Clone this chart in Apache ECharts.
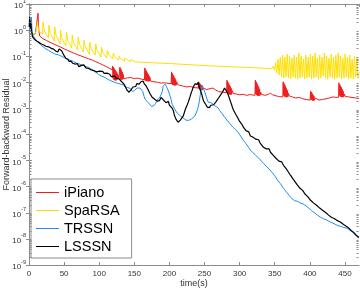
<!DOCTYPE html>
<html><head><meta charset="utf-8">
<script src="https://cdn.jsdelivr.net/npm/echarts@6/dist/echarts.min.js"></script>
<style>html,body{margin:0;padding:0;background:#fff}#c{width:360px;height:288px}</style>
</head><body><div id="c"></div>
<script>
// ---- data (time in s, residual stored as log10 exponent) ----
const seriesNames = ['iPiano', 'SpaRSA', 'TRSSN', 'LSSSN'];
const xTickStep = 50;
const yTickExponents = [-9,-8,-7,-6,-5,-4,-3,-2,-1,0,1];

const ipianoT = [3,6,9,11.7,12.9,13.3,13.9,15.3,20,25,30,35,40,45,50,55,60,65,70,75,80,85,90,95,100,105,110,115,118.5,
119,119.6,120.2,120.8,121.4,122,122.6,123.2,123.8,124.4,125,125.6,126.2,126.8,127.4,128.2,
129.5,130.1,130.7,131.3,131.9,132.5,133.1,133.7,134.3,135,136,140,145,150,155,160,164.5,
165,165.6,166.2,166.8,167.4,168,168.6,169.2,169.8,170.4,171,171.6,172.2,173,174,178,183,188,193,198,202.5,
203,203.6,204.2,204.8,205.4,206,206.6,207.2,207.8,208.4,209,209.6,210.4,211.5,215,220,225,230,235,241,
241.6,242.2,242.8,243.4,244,244.6,245.2,245.8,246.4,247,248,249,253,258,262,266,270,275,281.5,
282,282.6,283.2,283.8,284.4,285,285.6,286.2,286.8,287.4,288,288.6,289.4,290.5,295,300,305,310,315,321.8,
322.4,323,323.6,324.2,324.8,325.4,326,326.6,327.2,327.8,328.4,329,330,331,336,341,344,347,352,357,361.5,
362,362.6,363.2,363.8,364.4,365,365.6,366.2,366.8,367.4,368,368.6,369.5,370.5,375,380,385,390,395,400.5,
401,401.6,402.2,402.8,403.4,404,404.6,405.2,405.8,406.6,407.5,408.5,413,418,423,428,433,437,441,
441.4,442,442.6,443.2,443.8,444.4,445,445.6,446.2,446.8,447.4,448.2,449.2,450.5,455,460,465,470];
const ipianoLog10 = [-0.15,-0.16,-0.14,-0.11,0.65,0.30,0.00,-0.23,-0.33,-0.40,-0.47,-0.53,-0.59,-0.65,-0.72,-0.78,-0.84,-0.90,-0.95,-1.00,-1.05,-1.10,-1.15,-1.21,-1.27,-1.33,-1.40,-1.47,-1.52,
-1.38,-1.85,-1.42,-1.90,-1.47,-1.92,-1.52,-1.93,-1.57,-1.92,-1.62,-1.90,-1.68,-1.88,-1.74,-1.82,
-1.42,-1.88,-1.48,-1.90,-1.55,-1.90,-1.62,-1.88,-1.70,-1.86,-1.80,-1.83,-1.82,-1.86,-1.84,-1.88,-1.90,
-1.45,-1.93,-1.51,-1.95,-1.57,-1.96,-1.63,-1.96,-1.69,-1.96,-1.75,-1.96,-1.81,-1.95,-1.90,-1.98,-2.00,-2.03,-2.02,-2.04,-2.05,
-1.60,-2.07,-1.66,-2.10,-1.72,-2.11,-1.78,-2.12,-1.84,-2.12,-1.90,-2.11,-1.98,-2.08,-2.12,-2.15,-2.18,-2.16,-2.20,-2.22,
-1.98,-2.25,-2.02,-2.28,-2.06,-2.29,-2.10,-2.30,-2.15,-2.30,-2.22,-2.27,-2.28,-2.24,-2.22,-2.30,-2.35,-2.38,-2.40,
-1.92,-2.40,-1.98,-2.44,-2.04,-2.46,-2.10,-2.47,-2.16,-2.47,-2.23,-2.46,-2.32,-2.42,-2.45,-2.48,-2.46,-2.50,-2.47,-2.50,
-1.92,-2.45,-1.98,-2.49,-2.05,-2.51,-2.12,-2.52,-2.19,-2.52,-2.26,-2.50,-2.38,-2.46,-2.50,-2.46,-2.42,-2.48,-2.52,-2.55,-2.56,
-1.98,-2.50,-2.04,-2.54,-2.10,-2.56,-2.17,-2.57,-2.24,-2.57,-2.31,-2.56,-2.42,-2.52,-2.56,-2.60,-2.58,-2.63,-2.66,-2.68,
-2.33,-2.65,-2.38,-2.68,-2.43,-2.70,-2.48,-2.70,-2.53,-2.69,-2.60,-2.67,-2.68,-2.66,-2.63,-2.60,-2.56,-2.58,-2.57,
-2.02,-2.50,-2.08,-2.54,-2.14,-2.56,-2.20,-2.57,-2.27,-2.57,-2.34,-2.56,-2.45,-2.54,-2.56,-2.58,-2.60,-2.62];

const sparsaT = [5,8,10,
12,14,19.3, 20,22,27.6, 28.3,30.3,35.9, 36.6,38.6,44.3, 45,47,52.6, 53.3,55.3,60.9, 61.6,63.6,69.3, 70,72,77.6,
78.3,80.3,85.9, 86.6,88.6,94.3, 95,97,102.6, 103.3,105.3,110.9, 111.6,113.6,119.3, 120,122,127.6, 128.3,130.3,135.9,
136.6,138.6,144.3, 145,147,152, 175,200,225,250,275,300,320,340,346,
348,349.65,351.3,352.95,354.6,356.25,357.9,359.55,361.2,362.85,364.5,366.15,367.8,369.45,371.1,372.75,374.4,376.05,
377.7,379.35,381,382.65,384.3,385.95,387.6,389.25,390.9,392.55,394.2,395.85,397.5,399.15,400.8,402.45,404.1,405.75,
407.4,409.05,410.7,412.35,414,415.65,417.3,418.95,420.6,422.25,423.9,425.55,427.2,428.85,430.5,432.15,433.8,435.45,
437.1,438.75,440.4,442.05,443.7,445.35,447,448.65,450.3,451.95,453.6,455.25,456.9,458.55,460.2,461.85,463.5,465.15,
466.8,468.45,470];
const sparsaLog10 = [-0.12,-0.15,-0.05,
0.31,-0.05,-0.15, 0.31,-0.05,-0.30, 0.19,-0.12,-0.42, 0.12,-0.20,-0.53, 0.00,-0.32,-0.61, -0.07,-0.40,-0.69, -0.19,-0.48,-0.76, -0.27,-0.55,-0.84,
-0.38,-0.64,-0.92, -0.46,-0.70,-0.96, -0.53,-0.78,-1.03, -0.65,-0.86,-1.07, -0.76,-0.93,-1.11, -0.88,-1.02,-1.15, -1.00,-1.09,-1.19,
-1.07,-1.14,-1.21, -1.13,-1.18,-1.22, -1.25,-1.28,-1.32,-1.36,-1.39,-1.42,-1.44,-1.47,-1.47,
-1.38,-1.55,-1.25,-1.65,-1.12,-1.72,-1.03,-1.78,-0.96,-1.84,-1.03,-1.80,-0.92,-1.84,-0.99,-1.88,-1.07,-1.80,
-0.96,-1.84,-1.03,-1.88,-0.88,-1.84,-0.99,-1.80,-1.11,-1.88,-0.96,-1.84,-1.03,-1.80,-0.92,-1.88,-0.99,-1.84,
-0.88,-1.80,-1.07,-1.88,-0.96,-1.84,-1.03,-1.76,-0.88,-1.84,-0.99,-1.88,-1.07,-1.80,-0.92,-1.84,-1.03,-1.88,
-0.96,-1.84,-0.88,-1.80,-0.99,-1.88,-1.07,-1.84,-0.92,-1.80,-1.03,-1.88,-0.96,-1.84,-1.11,-1.88,-0.99,-1.80,
-1.07,-1.86,-1.60];

const trssnT = [0.3,1,1.7,2.5,3.4,3.9,4.3,5.3,6.5,8.1,10,12,13.5,15.3,17,19,21,22.4,24,26,28,29.6,31,33,35,36.7,38,40,42,43.9,
46,48,50,51,53,55,57,58.1,60,62,63.5,65.3,67,69,71,72.4,74,76,78,79.6,81,83,85,86.7,88,90,92,93.9,95.5,97,99,101,103,105,107,108.1,
110,112,113.5,115.3,117,119,121,122.4,124,126,128,129.6,131.5,133,135,136.5,138.1,140,141.5,143.9,145.5,147,148.1,150,152,154,156,158.1,
160,162,164,166,168,170,172.4,174.5,176.7,178.5,180.5,182.4,184,186,188.1,190,191,192.5,193.9,195.5,196.8,198.1,200,202,203.9,206,208,
211,213,215.5,217.5,219.6,221.5,223.5,225.3,227.5,229.5,231.5,233.9,236,238,240,241,242.5,243.9,245,246.7,248,249.5,250.9,252.5,254,
255.3,257,259,260.5,262.4,264.5,266.5,268,269.6,271.5,273,275,276.7,279,281,283,285,286.7,288.5,290.5,292.5,294.5,296.7,298.5,300.5,
302.5,305.3,307,309,311,313,315.3,317,319,321,323,325.3,327,329,331,333.9,336,338,340,342,343.9,346,348,350,352,353.9,356,358,360,
362.4,364.5,366.5,368.5,370.5,372.4,374.5,376.7,378.5,380.5,382.5,384.5,386.7,388.5,390.5,392.5,394.5,396.7,398.5,400.5,402.5,405.3,
407.5,409.5,411.5,413.5,415.3,417.5,419.5,421.5,423.5,425.3,427.5,429.5,431.5,433.9,436,438,440,443.9,446,448,450,453.9,456,458,460,
462.4,464.5,466.5,468.5,470];
const trssnLog10 = [-0.11,0.05,0.19,0.35,0.50,0.20,0.00,-0.19,-0.25,-0.30,-0.38,-0.44,-0.48,-0.53,-0.58,-0.61,-0.66,-0.69,-0.72,-0.74,-0.78,-0.80,-0.83,-0.86,-0.89,-0.92,-0.93,-0.94,-0.95,-0.96,
-1.00,-1.02,-1.05,-1.07,-1.10,-1.11,-1.14,-1.15,-1.17,-1.20,-1.21,-1.23,-1.26,-1.27,-1.29,-1.30,-1.33,-1.34,-1.36,-1.38,-1.40,-1.41,-1.43,-1.46,-1.48,-1.51,-1.54,-1.57,-1.62,-1.66,-1.70,-1.72,-1.76,-1.77,-1.80,-1.80,
-1.85,-1.88,-1.90,-1.92,-1.95,-1.96,-1.99,-1.99,-2.02,-2.00,-2.05,-2.03,-2.08,-2.12,-2.10,-2.18,-2.22,-2.20,-2.26,-2.23,-2.30,-2.35,-2.38,-2.32,-2.28,-2.22,-2.25,-2.22,
-2.28,-2.35,-2.55,-2.68,-2.75,-2.78,-2.80,-2.93,-2.99,-2.88,-2.80,-2.68,-2.62,-2.60,-2.53,-2.35,-2.15,-2.10,-2.07,-2.15,-2.22,-2.30,-2.45,-2.62,-2.84,-2.95,-3.05,
-3.18,-3.22,-3.28,-3.35,-3.37,-3.42,-3.45,-3.49,-3.46,-3.42,-3.40,-3.37,-3.30,-3.18,-3.05,-2.95,-2.75,-2.49,-2.30,-2.11,-2.20,-2.32,-2.41,-2.55,-2.68,
-2.76,-2.80,-2.78,-2.84,-2.84,-2.90,-2.93,-2.96,-2.99,-3.08,-3.12,-3.20,-3.26,-3.35,-3.40,-3.48,-3.55,-3.60,-3.66,-3.72,-3.78,-3.82,-3.87,-3.94,-4.02,
-4.08,-4.22,-4.28,-4.35,-4.42,-4.50,-4.60,-4.63,-4.70,-4.74,-4.80,-4.87,-4.90,-4.96,-5.02,-5.10,-5.15,-5.22,-5.26,-5.32,-5.37,-5.45,-5.50,-5.58,-5.66,-5.75,-5.82,-5.88,-5.95,
-6.06,-6.12,-6.20,-6.25,-6.33,-6.40,-6.46,-6.52,-6.54,-6.58,-6.56,-6.62,-6.63,-6.68,-6.66,-6.72,-6.74,-6.79,-6.82,-6.88,-6.92,-6.98,
-7.02,-7.06,-7.10,-7.14,-7.17,-7.20,-7.23,-7.25,-7.27,-7.29,-7.33,-7.35,-7.38,-7.40,-7.44,-7.46,-7.49,-7.52,-7.54,-7.56,-7.58,-7.60,-7.65,-7.69,-7.73,
-7.78,-7.84,-7.90,-7.95,-7.98];

const lsssnT = [0.3,0.8,1,1.4,1.8,2.3,2.8,3.4,4.2,5.3,6.5,8,9.6,11,12.5,14,15.3,17,19,21,22.4,24,26,28,29.6,31,33,35,36.7,38,39.5,41,42,43,44,45,46.7,48,49.6,
51,52.5,53.9,55.5,57,58.1,60,62,63.5,65.3,67,69,71,72.4,74,76,78,79.6,81,83,85,86.7,88,90,92,93.9,96,98,101,103,105,107,109,111,113,115,117,119.6,
122,124,126,128,129.6,131,133,135.3,137,139.6,141,142.5,143.9,145.5,147,148.1,150,152,153.5,155.3,157,159,160.5,162.4,164,165.5,167,168.1,170,172,
173.5,175.3,177,179,180.5,182.4,184,186,188,189.6,191,193,195,196.7,198.5,200,202,203.9,205.5,207,208.1,209.5,211,212.4,214,215.5,217,219.6,221,
222.5,224,225.3,227,228.5,229.6,231,232.5,233.9,235.5,236.5,238.1,239.5,241,242.4,244,246,248.1,250,252,253.9,255.5,257,259,261,263,265,266.5,
268.1,270,272,273.5,275.3,277,278.5,279.6,281,282.5,283.9,285.5,287,288.5,289.6,291,293,295,296.7,298.5,300,302,303.5,305.3,307,309,311,313,
315.3,317,319,321,323,325.3,327,329,331,333.9,336,338,340,342,343.9,346,348,350,352,353.9,356,358,360,362.4,364,366,368,370,372.4,374,376,378,
380,382.4,384,386,388,390,391,393,395,397,399,401,403,405,407,409.6,412,414,416,418.1,420,422,424,426.7,429,431,433.9,436,438,440,443.9,446,
448,450,453.9,456,458,460,462.4,464,466,468,470];
const lsssnLog10 = [0.12,0.40,0.51,0.20,0.35,0.05,0.25,0.00,-0.15,-0.27,-0.30,-0.36,-0.38,-0.42,-0.45,-0.47,-0.50,-0.52,-0.55,-0.57,-0.59,-0.62,-0.60,-0.64,-0.65,-0.69,-0.67,-0.73,-0.76,-0.80,-0.78,-0.84,-0.79,-0.72,-0.77,-0.70,-0.80,-0.86,-0.96,
-1.00,-1.08,-1.15,-1.12,-1.20,-1.23,-1.19,-1.27,-1.24,-1.30,-1.35,-1.29,-1.40,-1.42,-1.36,-1.40,-1.33,-1.38,-1.45,-1.40,-1.47,-1.46,-1.52,-1.47,-1.55,-1.53,-1.60,-1.54,-1.57,-1.64,-1.58,-1.66,-1.62,-1.65,-1.72,-1.69,-1.78,-1.80,
-1.76,-1.84,-1.81,-1.86,-1.84,-1.95,-1.92,-2.07,-2.15,-2.30,-2.25,-2.38,-2.37,-2.28,-2.25,-2.18,-2.12,-2.16,-2.05,-2.03,-2.07,-1.99,-2.02,-1.95,-2.05,-2.02,-2.15,-2.22,-2.30,-2.42,
-2.38,-2.57,-2.52,-2.65,-2.60,-2.72,-2.66,-2.70,-2.58,-2.57,-2.66,-2.62,-2.78,-2.80,-2.73,-2.88,-2.92,-2.99,-3.08,-3.25,-3.33,-3.42,-3.47,-3.53,-3.50,-3.45,-3.40,-3.30,-3.18,
-3.05,-2.95,-2.87,-2.75,-2.62,-2.53,-2.40,-2.30,-2.18,-2.12,-2.06,-2.03,-2.08,-2.00,-2.18,-2.30,-2.45,-2.68,-2.78,-2.86,-2.95,-2.90,-2.97,-2.88,-2.95,-2.86,-2.80,-2.74,
-2.68,-2.60,-2.52,-2.45,-2.38,-2.30,-2.22,-2.18,-2.28,-2.40,-2.49,-2.62,-2.74,-2.85,-2.95,-3.05,-3.10,-3.25,-3.33,-3.40,-3.50,-3.48,-3.62,-3.72,-3.78,-3.85,-3.92,-3.90,
-4.06,-4.02,-4.10,-4.08,-4.18,-4.22,-4.20,-4.32,-4.38,-4.49,-4.46,-4.55,-4.58,-4.55,-4.68,-4.72,-4.80,-4.85,-4.92,-4.98,-5.02,-5.08,-5.05,-5.18,-5.25,-5.30,-5.38,-5.42,-5.56,-5.62,-5.70,-5.72,
-5.85,-5.94,-5.98,-6.06,-6.10,-6.15,-6.21,-6.28,-6.33,-6.38,-6.45,-6.52,-6.56,-6.62,-6.64,-6.71,-6.76,-6.82,-6.85,-6.90,-6.95,-6.98,-7.04,-7.09,-7.12,-7.18,-7.21,-7.26,-7.28,-7.32,-7.36,-7.42,
-7.45,-7.50,-7.55,-7.60,-7.66,-7.70,-7.75,-7.80,-7.86,-7.90,-7.94];

// ---- build ----
function pairs(t, e) { return t.map((x, i) => [x, Math.pow(10, e[i])]); }
const colors = ['#ee1c1c', '#ffdf00', '#1e8ef0', '#000000'];
const dataSets = [pairs(ipianoT, ipianoLog10), pairs(sparsaT, sparsaLog10), pairs(trssnT, trssnLog10), pairs(lsssnT, lsssnLog10)];

// minor tick positions of the log axis (2..9 x 10^k)
const minorTickVals = [];
for (let k = -9; k <= 0; k++) for (let m = 2; m <= 9; m++) minorTickVals.push([0, m * Math.pow(10, k)]);

const axisGray = '#8c8c8c';
const chart = echarts.init(document.getElementById('c'), null, {renderer: 'canvas'});
const yLabelFmt = v => {
  const e = Math.round(Math.log10(v));
  return yTickExponents.indexOf(e) >= 0 ? '{b|10}{s|' + e + '}' : '';
};
const option = {
  animation: false,
  textStyle: {fontFamily: 'Liberation Sans, Arial, sans-serif'},
  grid: {left: 29, right: 1, top: 4, bottom: 23, show: false, containLabel: false, outerBoundsMode: 'none'},
  xAxis: [{
    type: 'value', min: 0, max: 470, interval: xTickStep, position: 'bottom',
    axisLine: {show: true, lineStyle: {color: axisGray, width: 1}},
    axisTick: {show: true, inside: true, length: 3, lineStyle: {color: axisGray}},
    axisLabel: {fontSize: 8, color: '#333', margin: 5, showMaxLabel: false},
    splitLine: {show: false},
    name: 'time(s)', nameLocation: 'middle', nameGap: 14, nameMoveOverlap: false,
    nameTextStyle: {fontSize: 9, color: '#333'}
  }, {
    type: 'value', min: 0, max: 470, interval: xTickStep, position: 'top',
    axisLine: {show: true, lineStyle: {color: axisGray, width: 1}},
    axisTick: {show: true, inside: true, length: 3, lineStyle: {color: axisGray}},
    axisLabel: {show: false}, splitLine: {show: false}
  }],
  yAxis: [{
    type: 'log', logBase: 10, min: 1e-9, max: 10, splitNumber: 10, position: 'left',
    axisLine: {show: true, lineStyle: {color: axisGray, width: 1}},
    axisTick: {show: true, inside: true, length: 3, lineStyle: {color: axisGray}},
    axisLabel: {
      formatter: yLabelFmt, margin: 3, color: '#333',
      rich: {b: {fontSize: 8, color: '#333', verticalAlign: 'bottom', lineHeight: 12},
             s: {fontSize: 5.5, color: '#333', verticalAlign: 'top', lineHeight: 12}}
    },
    splitLine: {show: false},
    name: 'Forward-backward Residual', nameLocation: 'middle', nameGap: 18, nameMoveOverlap: false,
    nameTextStyle: {fontSize: 9, color: '#333'}
  }, {
    type: 'log', logBase: 10, min: 1e-9, max: 10, splitNumber: 10, position: 'right',
    axisLine: {show: true, lineStyle: {color: axisGray, width: 1}},
    axisTick: {show: true, inside: true, length: 3, lineStyle: {color: axisGray}},
    axisLabel: {show: false}, splitLine: {show: false}
  }],
  legend: {
    orient: 'vertical', left: 31, top: 179, padding: [5, 12, 3, 5],
    itemGap: 1, itemWidth: 23, itemHeight: 1, icon: 'rect',
    backgroundColor: '#fff', borderColor: axisGray, borderWidth: 1, borderRadius: 0,
    textStyle: {fontSize: 14.5, lineHeight: 17, color: '#000', fontFamily: 'Liberation Sans, Arial, sans-serif'},
    data: seriesNames
  },
  series: seriesNames.map((n, i) => ({
    name: n, type: 'line', data: dataSets[i], showSymbol: false, symbol: 'none',
    xAxisIndex: 0, yAxisIndex: 0,
    lineStyle: {color: colors[i], width: i === 3 ? 1.2 : 1}, itemStyle: {color: colors[i]},
    clip: true, z: 2 + i
  })).concat([{
    type: 'custom', name: 'minorTicks', data: minorTickVals, silent: true, z: 10,
    xAxisIndex: 0, yAxisIndex: 0, clip: false,
    renderItem: function (params, api) {
      const p = api.coord([0, api.value(1)]);
      const cs = params.coordSys;
      const y = Math.round(p[1]) + 0.5;
      const x0 = cs.x + 0.5, x1 = cs.x + cs.width - 0.5;
      return {type: 'group', children: [
        {type: 'line', shape: {x1: x0, y1: y, x2: x0 + 2, y2: y}, style: {stroke: axisGray, lineWidth: 1}},
        {type: 'line', shape: {x1: x1, y1: y, x2: x1 - 2, y2: y}, style: {stroke: axisGray, lineWidth: 1}}
      ]};
    }
  }])
};
chart.setOption(option);
</script></body></html>
